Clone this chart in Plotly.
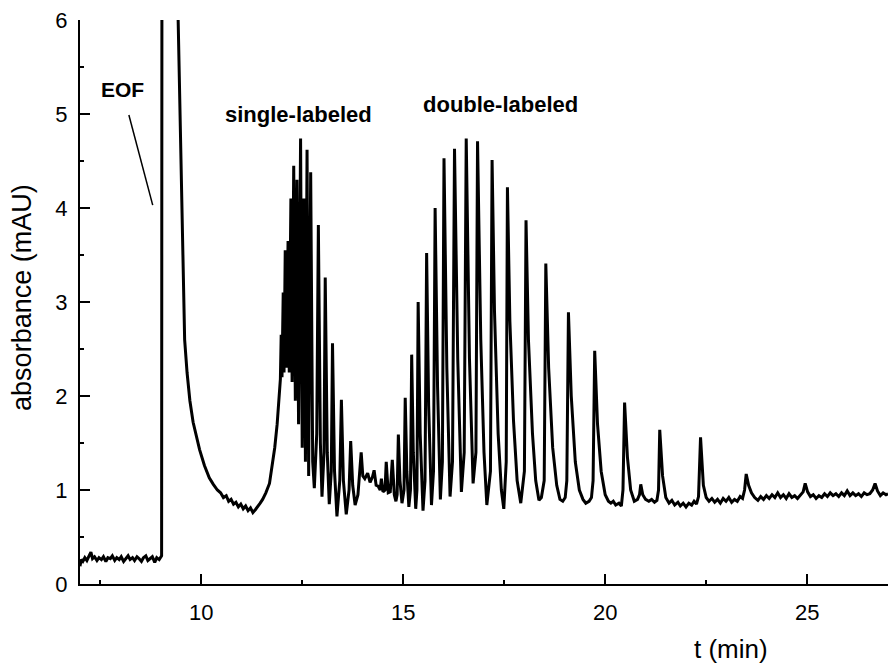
import plotly.graph_objects as go

# ---- data (t in min, absorbance in mAU) ----
baseline = [(7.00, 0.19), (7.03, 0.26), (7.07, 0.24), (7.12, 0.28), (7.17, 0.25), (7.22, 0.30),
            (7.27, 0.34), (7.31, 0.27), (7.36, 0.29), (7.42, 0.25), (7.47, 0.28), (7.53, 0.26),
            (7.58, 0.29), (7.64, 0.24), (7.69, 0.28), (7.75, 0.27), (7.80, 0.30), (7.86, 0.25),
            (7.91, 0.28), (7.97, 0.26), (8.02, 0.29), (8.08, 0.24), (8.13, 0.27), (8.19, 0.30),
            (8.24, 0.26), (8.30, 0.28), (8.35, 0.25), (8.41, 0.29), (8.46, 0.27), (8.52, 0.24),
            (8.57, 0.28), (8.63, 0.30), (8.68, 0.25), (8.74, 0.27), (8.79, 0.29), (8.85, 0.23),
            (8.90, 0.28), (8.96, 0.26), (9.01, 0.29)]

eof_peak = [(9.02, 0.30), (9.03, 8.0), (9.40, 8.0), (9.42, 6.2)]

eof_decay = [(9.47, 5.15), (9.51, 4.10), (9.55, 3.10), (9.59, 2.60), (9.65, 2.25), (9.72, 1.95),
             (9.80, 1.72), (9.88, 1.56), (9.96, 1.43), (10.08, 1.26), (10.20, 1.13), (10.30, 1.06),
             (10.40, 1.00), (10.48, 0.97), (10.55, 0.92), (10.62, 0.94), (10.68, 0.88), (10.74, 0.90),
             (10.80, 0.85), (10.86, 0.87), (10.92, 0.82), (10.98, 0.85), (11.04, 0.80), (11.10, 0.83),
             (11.16, 0.78), (11.22, 0.81), (11.28, 0.76), (11.34, 0.79), (11.40, 0.82), (11.46, 0.86),
             (11.52, 0.90), (11.60, 0.97), (11.69, 1.07), (11.76, 1.28), (11.82, 1.45), (11.88, 1.70),
             (11.93, 2.05), (11.96, 2.18)]

single_labeled = [(11.98, 2.65), (12.00, 2.20), (12.03, 3.10), (12.05, 2.25), (12.08, 3.55), (12.11, 2.30),
                  (12.15, 3.65), (12.18, 2.25), (12.22, 4.10), (12.25, 2.15), (12.29, 4.45), (12.33, 1.95),
                  (12.37, 4.30), (12.41, 1.70), (12.46, 4.74), (12.50, 1.45), (12.54, 4.10), (12.58, 1.30),
                  (12.62, 4.62), (12.66, 1.15), (12.71, 4.38), (12.76, 1.30), (12.80, 1.02), (12.86, 1.60),
                  (12.90, 3.82), (12.95, 1.50), (12.99, 0.93), (13.04, 1.40), (13.07, 3.26), (13.12, 1.40),
                  (13.17, 0.85), (13.22, 1.20), (13.25, 2.56), (13.30, 1.20), (13.36, 0.72), (13.43, 1.10),
                  (13.47, 1.96), (13.52, 1.10), (13.59, 0.74), (13.66, 1.00), (13.70, 1.52), (13.75, 1.05),
                  (13.81, 0.84), (13.88, 0.95), (13.96, 1.40), (14.00, 1.15), (14.05, 1.12), (14.12, 1.18),
                  (14.18, 1.08), (14.24, 1.14), (14.28, 1.21), (14.33, 1.05), (14.38, 1.04), (14.43, 1.00),
                  (14.46, 1.12), (14.50, 0.98), (14.55, 1.00), (14.58, 1.30), (14.63, 0.97), (14.68, 0.98),
                  (14.73, 1.32), (14.78, 0.95), (14.82, 0.88)]

double_labeled = [(14.85, 0.95), (14.88, 1.59), (14.92, 1.10), (14.97, 0.86), (15.02, 1.00), (15.05, 1.98),
                  (15.09, 1.20), (15.14, 0.82), (15.18, 1.00), (15.21, 2.44), (15.25, 1.40), (15.31, 0.80),
                  (15.34, 1.00), (15.37, 3.00), (15.42, 1.60), (15.49, 0.78), (15.54, 1.10), (15.58, 3.52),
                  (15.63, 1.90), (15.70, 0.84), (15.75, 1.20), (15.79, 4.00), (15.85, 2.10), (15.92, 0.90),
                  (15.97, 1.30), (16.01, 4.53), (16.08, 2.30), (16.16, 0.93), (16.22, 1.30), (16.27, 4.63),
                  (16.35, 2.40), (16.44, 0.98), (16.51, 1.40), (16.56, 4.74), (16.64, 2.40), (16.73, 1.07),
                  (16.80, 1.40), (16.84, 4.71), (16.92, 2.60), (17.00, 1.40), (17.07, 0.84), (17.16, 1.20),
                  (17.20, 4.51), (17.26, 2.90), (17.35, 1.60), (17.43, 1.00), (17.49, 0.80), (17.55, 1.30),
                  (17.58, 4.22), (17.64, 2.80), (17.73, 1.74), (17.82, 1.10), (17.91, 0.86), (18.00, 1.20),
                  (18.04, 3.87), (18.10, 2.60), (18.20, 1.60), (18.28, 1.10), (18.36, 0.89), (18.42, 0.92),
                  (18.49, 1.10), (18.53, 3.41), (18.60, 2.30), (18.70, 1.45), (18.80, 1.05), (18.88, 0.90),
                  (18.95, 0.88), (19.01, 0.92), (19.05, 1.10), (19.09, 2.89), (19.16, 2.00), (19.26, 1.30),
                  (19.36, 1.00), (19.45, 0.90), (19.52, 0.86), (19.60, 0.88), (19.66, 0.92), (19.70, 1.10),
                  (19.74, 2.48), (19.81, 1.70), (19.90, 1.20), (20.00, 0.95), (20.08, 0.88), (20.14, 0.86),
                  (20.20, 0.88), (20.26, 0.84), (20.34, 0.86), (20.40, 0.83), (20.44, 1.00), (20.48, 1.93),
                  (20.55, 1.35), (20.63, 1.00), (20.72, 0.88), (20.80, 0.90), (20.85, 0.95), (20.88, 1.06),
                  (20.93, 0.95), (21.00, 0.90), (21.08, 0.88), (21.15, 0.90), (21.22, 0.87), (21.28, 0.89),
                  (21.32, 1.00), (21.35, 1.64), (21.42, 1.15), (21.50, 0.92)]

late_tail = [(21.58, 0.86), (21.65, 0.89), (21.72, 0.84), (21.80, 0.87), (21.86, 0.83), (21.93, 0.86),
             (22.00, 0.82), (22.07, 0.86), (22.14, 0.84), (22.20, 0.88), (22.26, 0.85), (22.31, 0.93),
             (22.36, 1.56), (22.43, 1.05), (22.50, 0.92), (22.57, 0.88), (22.64, 0.91), (22.71, 0.87),
             (22.78, 0.90), (22.85, 0.86), (22.92, 0.91), (22.99, 0.88), (23.06, 0.92), (23.13, 0.87),
             (23.20, 0.90), (23.27, 0.88), (23.34, 0.93), (23.40, 0.91), (23.45, 1.00), (23.49, 1.17),
             (23.55, 1.05), (23.62, 0.97), (23.70, 0.92), (23.78, 0.89), (23.85, 0.93), (23.92, 0.90),
             (23.99, 0.94), (24.06, 0.91), (24.13, 0.95), (24.20, 0.92), (24.27, 0.97), (24.34, 0.92),
             (24.41, 0.95), (24.48, 0.91), (24.55, 0.96), (24.62, 0.92), (24.69, 0.94), (24.76, 0.91),
             (24.83, 0.95), (24.90, 0.98), (24.95, 1.07), (25.01, 0.98), (25.08, 0.93), (25.15, 0.95),
             (25.22, 0.91), (25.29, 0.94), (25.36, 0.92), (25.43, 0.96), (25.50, 0.93), (25.57, 0.97),
             (25.64, 0.94), (25.71, 0.96), (25.78, 0.93), (25.85, 0.97), (25.92, 0.94), (25.99, 0.99),
             (26.06, 0.94), (26.13, 0.97), (26.20, 0.94), (26.27, 0.96), (26.34, 0.93), (26.41, 0.97),
             (26.48, 0.95), (26.55, 0.96), (26.62, 1.00), (26.68, 1.07), (26.74, 0.99), (26.81, 0.94),
             (26.88, 0.97), (26.95, 0.95), (27.00, 0.96)]

x_ticks = [10, 15, 20, 25]
y_ticks = [0, 1, 2, 3, 4, 5, 6]

segments = [baseline, eof_peak, eof_decay, single_labeled, double_labeled, late_tail]
t_vals = [p[0] for seg in segments for p in seg]
a_vals = [p[1] for seg in segments for p in seg]

FONT = "Liberation Sans, Arial, sans-serif"

fig = go.Figure()
fig.add_trace(go.Scatter(x=t_vals, y=a_vals, mode="lines",
                         line=dict(color="black", width=3), showlegend=False,
                         hoverinfo="skip"))

axis_common = dict(showline=True, linecolor="black", linewidth=2, ticks="inside",
                   ticklen=10, tickwidth=2, tickcolor="black", showgrid=False,
                   zeroline=False, tickfont=dict(family=FONT, size=22, color="black"))

fig.update_xaxes(range=[7, 27], tickmode="array", tickvals=x_ticks,
                 minor=dict(ticks="inside", ticklen=4, tickwidth=2, tickcolor="black", dtick=2.5, tick0=0),
                 ticklabelstandoff=8, **axis_common)
fig.update_yaxes(range=[0, 6], tickmode="array", tickvals=y_ticks,
                 minor=dict(ticks="inside", ticklen=4, tickwidth=2, tickcolor="black", dtick=0.5, tick0=0),
                 ticklabelstandoff=6, **axis_common)

fig.add_shape(type="line", x0=8.21, y0=4.99, x1=8.80, y1=4.03, xref="x", yref="y",
              line=dict(color="black", width=1.5))

ann_bold = dict(showarrow=False, xanchor="center", yanchor="middle")
fig.add_annotation(x=8.06, y=5.26, text="<b>EOF</b>",
                   font=dict(family=FONT, size=21, color="black"), **ann_bold)
fig.add_annotation(x=12.4, y=4.99, text="<b>single-labeled</b>",
                   font=dict(family=FONT, size=22, color="black"), **ann_bold)
fig.add_annotation(x=17.4, y=5.10, text="<b>double-labeled</b>",
                   font=dict(family=FONT, size=22, color="black"), **ann_bold)

fig.add_annotation(x=0.806, y=-0.116, xref="paper", yref="paper", text="t (min)",
                   showarrow=False, xanchor="center", yanchor="middle",
                   font=dict(family=FONT, size=26, color="black"))
fig.add_annotation(x=-0.0718, y=0.509, xref="paper", yref="paper", text="absorbance (mAU)",
                   textangle=-90, showarrow=False, xanchor="center", yanchor="middle",
                   font=dict(family=FONT, size=27, color="black"))

fig.update_layout(width=888, height=665, margin=dict(l=80, r=0, t=20, b=81),
                  paper_bgcolor="white", plot_bgcolor="white",
                  font=dict(family=FONT, color="black"))

fig.write_html("out.html")
